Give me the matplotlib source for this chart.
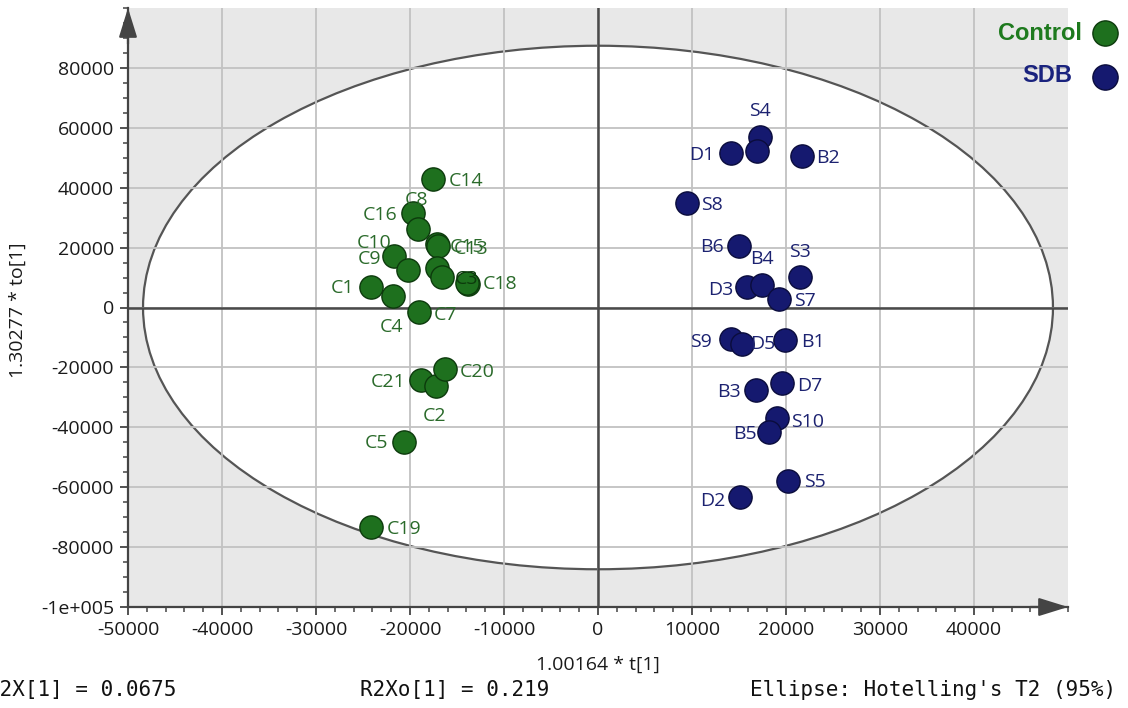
import numpy as np
import matplotlib
matplotlib.use('Agg')
import matplotlib.pyplot as plt
from matplotlib.patches import Ellipse
import matplotlib.ticker as ticker

plt.rcParams['axes.unicode_minus'] = False

# scores (t[1], to[1])
ctrl_names = ['C14', 'C16', 'C8', 'C15', 'C13', 'C10', 'C9', 'C6', 'C11',
              'C18', 'C3', 'C1', 'C4', 'C7', 'C21', 'C2', 'C20', 'C5', 'C19']
ctrl_t = [-17550, -19680, -19150, -17130, -17020, -21700, -20210, -17130, -16600,
          -13830, -13940, -24150, -21810, -19040, -18830, -17230, -16280, -20640, -24150]
ctrl_to = [42850, 31560, 26240, 21260, 20600, 17280, 12620, 13290, 10300,
           7970, 8300, 6980, 3990, -1660, -24250, -26240, -20600, -44850, -73420]

sdb_names = ['S4', 'S6', 'D1', 'B2', 'S8', 'B6', 'S3', 'D3', 'B4', 'S7',
             'S9', 'D5', 'B1', 'B3', 'D7', 'S10', 'B5', 'S5', 'D2']
sdb_t = [17230, 16920, 14150, 21700, 9470, 15000, 21490, 15850, 17450, 19260,
         14150, 15320, 19890, 16810, 19570, 19040, 18190, 20210, 15110]
sdb_to = [56810, 52160, 51490, 50490, 34880, 20600, 10300, 6980, 7640, 2990,
          -10630, -12290, -10960, -27570, -25250, -36870, -41530, -57800, -63120]

# label placement (pixels from the dot); names missing here get no label
lab_off = {
    'C14': (33, -2), 'C16': (-33, -2), 'C8': (-1, 29), 'C15': (30, -3), 'C13': (33, -3),
    'C10': (-20, 13), 'C9': (-39, 11), 'C18': (32, 0), 'C3': (0, 4), 'C1': (-28, -1),
    'C4': (-1, -31), 'C7': (26, -3), 'C21': (-33, -2), 'C2': (-1, -30), 'C20': (32, -3),
    'C5': (-27, -1), 'C19': (33, -2),
    'S4': (0, 26), 'D1': (-29, -2), 'B2': (26, -2), 'S8': (25, -2), 'B6': (-27, -1),
    'S3': (0, 25), 'D3': (-26, -3), 'B4': (0, 26), 'S7': (26, -2), 'S9': (-30, -3),
    'D5': (21, 0), 'B1': (28, -2), 'B3': (-27, -2), 'D7': (28, -3), 'S10': (31, -4),
    'B5': (-24, -2), 'S5': (27, -1), 'D2': (-27, -4),
}

GREEN = '#1e701e'
GREEN_E = '#0c3a0c'
BLUE = '#15196f'
BLUE_E = '#0a0c3c'

W, H = 1128, 708
fig = plt.figure(figsize=(W / 100, H / 100), dpi=100)
ax = fig.add_axes([128 / W, 1 - 607 / H, 940 / W, 599 / H])
ax.set_facecolor('#e8e8e8')

ax.set_xlim(-50000, 50000)
ax.set_ylim(-100000, 100000)

ell = Ellipse((0, 0), 2 * 48400, 2 * 87400, facecolor='white', edgecolor='#555555',
              lw=1.6, zorder=1)
ax.add_patch(ell)
ax.set_axisbelow('line')
ax.grid(True, which='major', color='#c2c2c2', lw=1.3)
ax.axhline(0, color='#4a4a4a', lw=1.8, zorder=1.6)
ax.axvline(0, color='#4a4a4a', lw=1.8, zorder=1.6)

font = 'Open Sans'
xt = np.arange(-50000, 50000, 10000)
yt = np.arange(-100000, 100000, 20000)
ax.set_xticks(xt)
ax.set_xticklabels([str(v) for v in xt])
ax.set_yticks(yt)
ax.set_yticklabels(['-1e+005' if v == -100000 else str(v) for v in yt])
ax.xaxis.set_minor_locator(ticker.MultipleLocator(2000))
ax.yaxis.set_minor_locator(ticker.MultipleLocator(5000))
ax.tick_params(which='major', length=6, width=1.3, color='#444444', labelsize=14,
               labelcolor='#1a1a1a', pad=4)
ax.tick_params(which='minor', length=3.5, width=1.1, color='#444444')
for lab in ax.get_xticklabels() + ax.get_yticklabels():
    lab.set_fontfamily(font)

for s in ['top', 'right']:
    ax.spines[s].set_visible(False)
for s in ['left', 'bottom']:
    ax.spines[s].set_color('#444444')
    ax.spines[s].set_linewidth(1.6)

# arrow heads on the axes
arr = dict(arrowstyle='-|>,head_length=0.9,head_width=0.28', color='#444444',
           lw=1.6, shrinkA=0, shrinkB=0, mutation_scale=20)
ax.annotate('', xy=(1, 0), xytext=(0.96, 0), xycoords='axes fraction',
            arrowprops=arr, annotation_clip=False)
ax.annotate('', xy=(0, 1), xytext=(0, 0.94), xycoords='axes fraction',
            arrowprops=arr, annotation_clip=False)

# points drawn one by one, each label right after its dot
z = 3
for names, xs, ys, fc, ec, tc in [(ctrl_names, ctrl_t, ctrl_to, GREEN, GREEN_E, '#2a6a2a'),
                                  (sdb_names, sdb_t, sdb_to, BLUE, BLUE_E, '#1c2270')]:
    for n, x, y in zip(names, xs, ys):
        ax.scatter(x, y, s=280, c=fc, edgecolors=ec, linewidths=1.0, zorder=z)
        if n in lab_off:
            dx, dy = lab_off[n]
            ax.annotate(n, (x, y), xytext=(dx, dy), textcoords='offset pixels',
                        ha='center', va='center', fontsize=14, family=font,
                        color=ec if n == 'C3' else tc, zorder=z + 0.5)
        z += 1

# legend
fig.text(1082 / W, 1 - 33 / H, 'Control', ha='right', va='center', fontsize=17,
         fontweight='bold', family='Liberation Sans', color='#1e7a1e')
fig.text(1072 / W, 1 - 76 / H, 'SDB', ha='right', va='center', fontsize=17,
         fontweight='bold', family='Liberation Sans', color='#1a237e')
ax.scatter([1105 / W], [1 - 33 / H], s=330, c=GREEN, edgecolors=GREEN_E,
           transform=fig.transFigure, clip_on=False, zorder=50)
ax.scatter([1105 / W], [1 - 77 / H], s=330, c=BLUE, edgecolors=BLUE_E,
           transform=fig.transFigure, clip_on=False, zorder=50)

# axis titles
fig.text(18 / W, 1 - 310 / H, '1.30277 * to[1]', rotation=90, ha='center', va='center',
         fontsize=14, family=font, color='#1a1a1a')
fig.text(598 / W, 1 - 665 / H, '1.00164 * t[1]', ha='center', va='center',
         fontsize=14, family=font, color='#1a1a1a')

# footer
mono = dict(fontsize=15, family='DejaVu Sans Mono', color='#111111', va='center')
fig.text(-13 / W, 1 - 690 / H, 'R2X[1] = 0.0675', ha='left', **mono)
fig.text(360 / W, 1 - 690 / H, 'R2Xo[1] = 0.219', ha='left', **mono)
fig.text(1116 / W, 1 - 690 / H, "Ellipse: Hotelling's T2 (95%)", ha='right', **mono)

fig.savefig('out.png', dpi=100)
